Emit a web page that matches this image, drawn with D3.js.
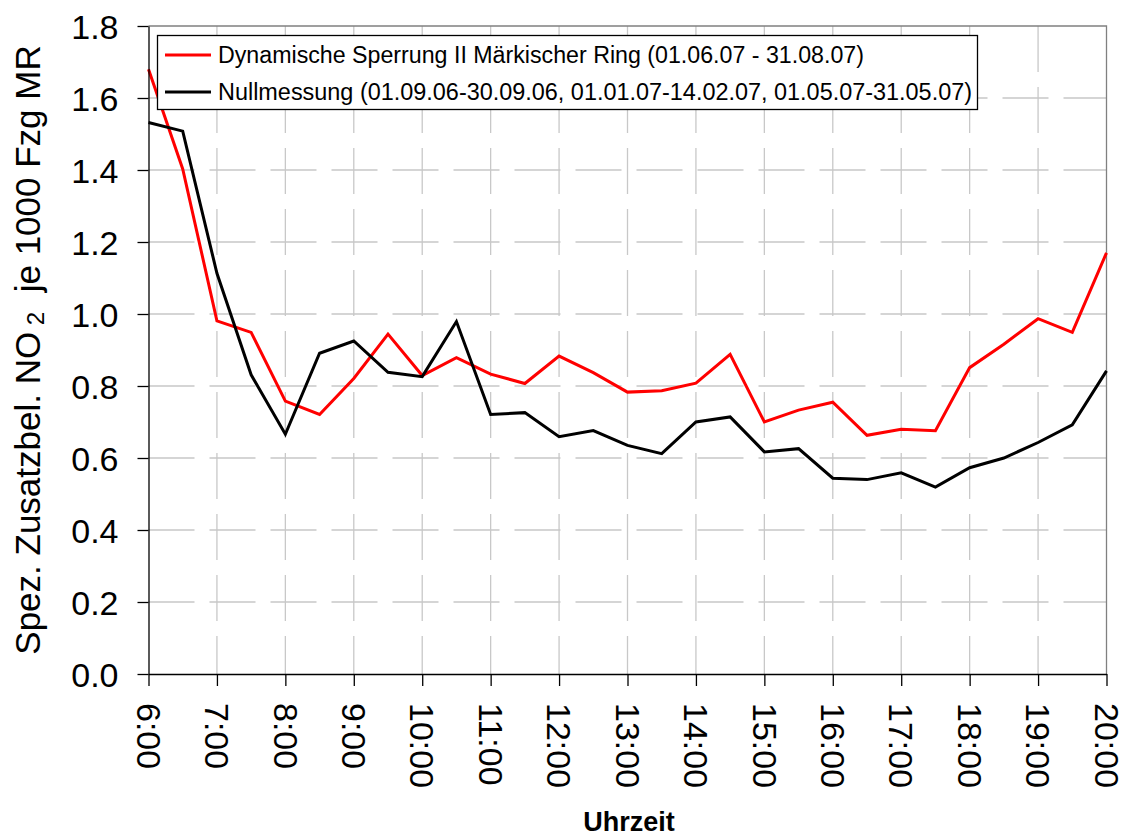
<!DOCTYPE html>
<html>
<head>
<meta charset="utf-8">
<script src="https://cdn.jsdelivr.net/npm/d3@7"></script>
<style>
  html, body { margin: 0; padding: 0; background: #fff; }
  svg { display: block; font-family: "Liberation Sans", Arial, sans-serif; }
</style>
</head>
<body>
<svg id="chart" width="1122" height="834"></svg>
<script>
// ---- data ----
const times = [6,6.5,7,7.5,8,8.5,9,9.5,10,10.5,11,11.5,12,12.5,13,13.5,14,14.5,15,15.5,16,16.5,17,17.5,18,18.5,19,19.5,20];
const dynamischeSperrung = [1.680,1.403,0.981,0.949,0.758,0.721,0.821,0.944,0.829,0.879,0.833,0.807,0.883,0.837,0.783,0.787,0.808,0.888,0.700,0.733,0.755,0.663,0.680,0.676,0.851,0.916,0.987,0.949,1.170];
const nullmessung = [1.532,1.508,1.113,0.831,0.666,0.891,0.925,0.838,0.826,0.979,0.721,0.726,0.659,0.676,0.635,0.612,0.700,0.714,0.617,0.626,0.544,0.540,0.559,0.519,0.573,0.600,0.643,0.692,0.842];
const xTicks = [6,7,8,9,10,11,12,13,14,15,16,17,18,19,20];
const xTickLabels = ["6:00","7:00","8:00","9:00","10:00","11:00","12:00","13:00","14:00","15:00","16:00","17:00","18:00","19:00","20:00"];
const yTicks = [0,0.2,0.4,0.6,0.8,1.0,1.2,1.4,1.6,1.8];
const seriesNames = ["Dynamische Sperrung II Märkischer Ring (01.06.07 - 31.08.07)",
                     "Nullmessung (01.09.06-30.09.06, 01.01.07-14.02.07, 01.05.07-31.05.07)"];
const seriesColors = ["#ff0000", "#000000"];

// ---- layout ----
const L = 148.5, R = 1106.5, T = 26, B = 674;
const svg = d3.select("#chart");
const x = d3.scaleLinear().domain([6, 20]).range([L, R]);
const y = d3.scaleLinear().domain([0, 1.8]).range([B, T]);

// gridlines
const grid = svg.append("g");
grid.selectAll("line.v").data(xTicks.slice(1, -1)).join("line")
  .attr("x1", d => x(d)).attr("x2", d => x(d)).attr("y1", T).attr("y2", B)
  .attr("stroke", "#c8c8c8").attr("stroke-width", 1.3).attr("stroke-dasharray", "46,15");
grid.selectAll("line.h").data(yTicks.slice(1, -1)).join("line")
  .attr("x1", L).attr("x2", R).attr("y1", d => y(d)).attr("y2", d => y(d))
  .attr("stroke", "#c8c8c8").attr("stroke-width", 1.3).attr("stroke-dasharray", "46,15");

// plot border (top/right gray)
svg.append("path").attr("d", `M${L},${T}H${R}V${B}`).attr("fill", "none").attr("stroke", "#808080").attr("stroke-width", 1.3);

// series
const line = d3.line().x((d, i) => x(times[i])).y(d => y(d));
[dynamischeSperrung, nullmessung].forEach((s, k) => {
  svg.append("path").datum(s).attr("d", line)
    .attr("fill", "none").attr("stroke", seriesColors[k]).attr("stroke-width", 3)
    .attr("stroke-linejoin", "miter");
});

// axes
const yAxis = svg.append("g").attr("transform", `translate(${L},0)`)
  .call(d3.axisLeft(y).tickValues(yTicks).tickFormat(d3.format(".1f")).tickSize(11).tickSizeOuter(0).tickPadding(19));
yAxis.selectAll("text").attr("font-size", 34).attr("fill", "#000").attr("font-family", "Liberation Sans, Arial, sans-serif").attr("dy", "0.36em");
yAxis.selectAll("line, path").attr("stroke", "#000").attr("stroke-width", 1.3);

const xAxis = svg.append("g").attr("transform", `translate(0,${B})`)
  .call(d3.axisBottom(x).tickValues(xTicks).tickFormat((d, i) => xTickLabels[i]).tickSize(12).tickSizeOuter(0));
xAxis.selectAll("text").attr("font-size", 34).attr("fill", "#000").attr("font-family", "Liberation Sans, Arial, sans-serif")
  .attr("transform", "rotate(90)").attr("x", 29).attr("y", 0).attr("dy", "0.36em").attr("text-anchor", "start");
xAxis.selectAll("line, path").attr("stroke", "#000").attr("stroke-width", 1.3);

// axis titles
svg.append("text").attr("x", 629).attr("y", 831).attr("text-anchor", "middle")
  .attr("font-size", 27).attr("font-weight", "bold").text("Uhrzeit");

const yt = svg.append("text").attr("transform", "translate(40,350) rotate(-90)").attr("text-anchor", "middle")
  .attr("font-size", 35).attr("xml:space", "preserve");
yt.append("tspan").text("Spez. Zusatzbel. NO");
yt.append("tspan").attr("font-size", 24).attr("dy", 4).text("\u00a02");
yt.append("tspan").attr("dy", -4).text("\u00a0\u00a0je 1000 Fzg MR");

// legend
const lg = svg.append("g");
lg.append("rect").attr("x", 157.5).attr("y", 35.5).attr("width", 820).attr("height", 74)
  .attr("fill", "#fff").attr("stroke", "#000").attr("stroke-width", 1.3);
const legendTextLen = [646, 754];
seriesNames.forEach((n, k) => {
  const cy = 55 + k * 37;
  lg.append("line").attr("x1", 165).attr("x2", 211).attr("y1", cy).attr("y2", cy)
    .attr("stroke", seriesColors[k]).attr("stroke-width", 3);
  lg.append("text").attr("x", 218).attr("y", cy + 8).attr("font-size", 23)
    .attr("textLength", legendTextLen[k]).attr("lengthAdjust", "spacingAndGlyphs").text(n);
});
</script>
</body>
</html>
